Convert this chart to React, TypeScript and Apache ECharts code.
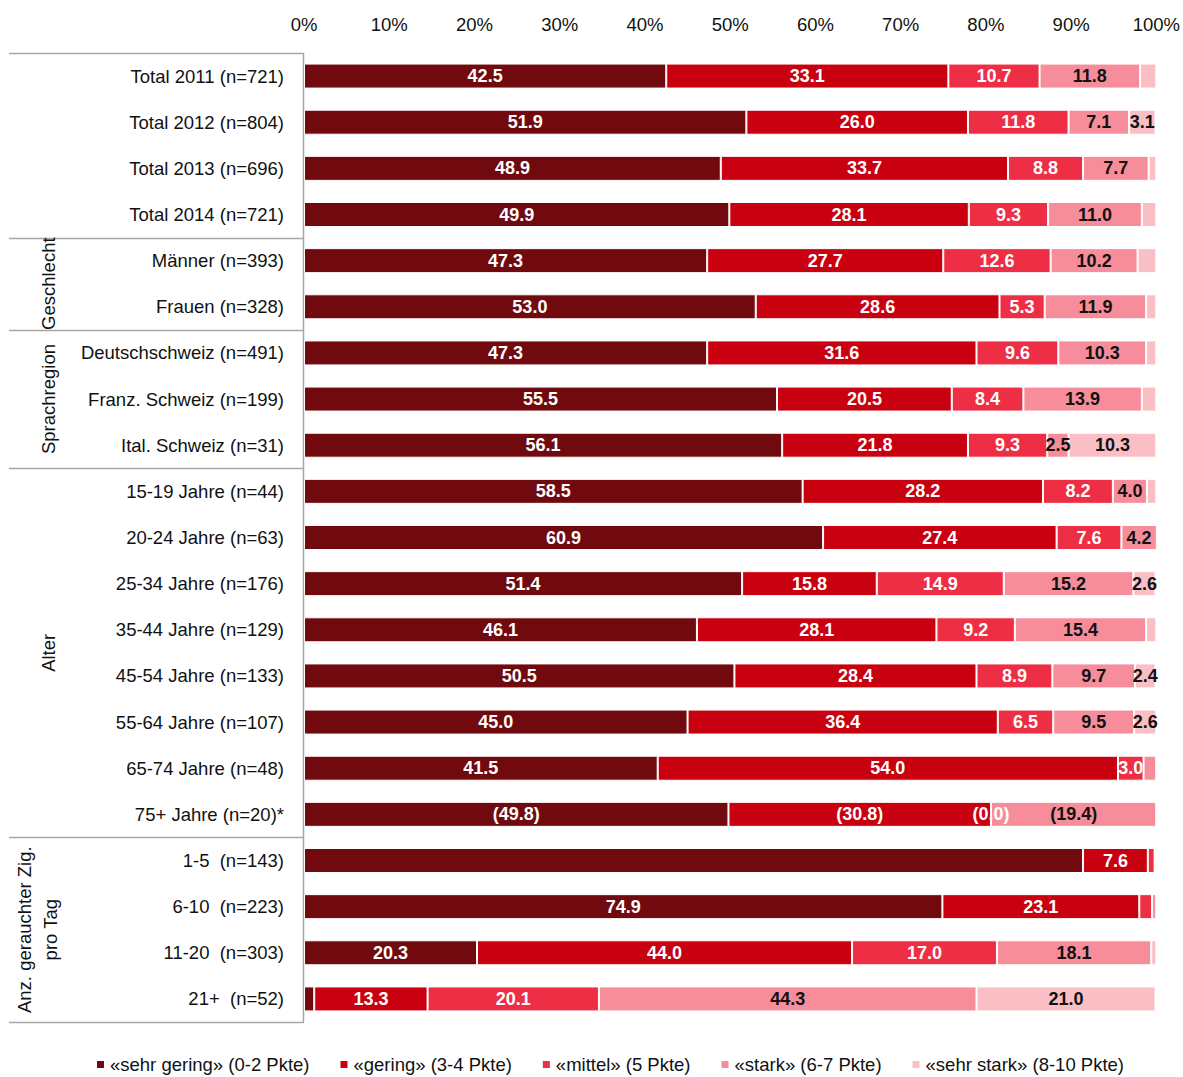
import React, { useEffect, useRef } from "react";
import * as echarts from "echarts";

const categories = [
  "Total 2011 (n=721)",
  "Total 2012 (n=804)",
  "Total 2013 (n=696)",
  "Total 2014 (n=721)",
  "Männer (n=393)",
  "Frauen (n=328)",
  "Deutschschweiz (n=491)",
  "Franz. Schweiz (n=199)",
  "Ital. Schweiz (n=31)",
  "15-19 Jahre (n=44)",
  "20-24 Jahre (n=63)",
  "25-34 Jahre (n=176)",
  "35-44 Jahre (n=129)",
  "45-54 Jahre (n=133)",
  "55-64 Jahre (n=107)",
  "65-74 Jahre (n=48)",
  "75+ Jahre (n=20)*",
  "1-5  (n=143)",
  "6-10  (n=223)",
  "11-20  (n=303)",
  "21+  (n=52)",
];

const sehrGering = [42.5, 51.9, 48.9, 49.9, 47.3, 53.0, 47.3, 55.5, 56.1, 58.5, 60.9, 51.4, 46.1, 50.5, 45.0, 41.5, 49.8, 91.4, 74.9, 20.3, 1.2];
const gering = [33.1, 26.0, 33.7, 28.1, 27.7, 28.6, 31.6, 20.5, 21.8, 28.2, 27.4, 15.8, 28.1, 28.4, 36.4, 54.0, 30.8, 7.6, 23.1, 44.0, 13.3];
const mittel = [10.7, 11.8, 8.8, 9.3, 12.6, 5.3, 9.6, 8.4, 9.3, 8.2, 7.6, 14.9, 9.2, 8.9, 6.5, 3.0, 0.0, 0.8, 1.5, 17.0, 20.1];
const stark = [11.8, 7.1, 7.7, 11.0, 10.2, 11.9, 10.3, 13.9, 2.5, 4.0, 4.2, 15.2, 15.4, 9.7, 9.5, 1.5, 19.4, 0, 0.5, 18.1, 44.3];
const sehrStark = [1.9, 3.1, 0.9, 1.7, 2.2, 1.2, 1.2, 1.7, 10.3, 1.1, 0, 2.6, 1.2, 2.4, 2.6, 0, 0, 0, 0, 0.6, 21.0];

const seriesNames = [
  "«sehr gering» (0-2 Pkte)",
  "«gering» (3-4 Pkte)",
  "«mittel» (5 Pkte)",
  "«stark» (6-7 Pkte)",
  "«sehr stark» (8-10 Pkte)",
];
const seriesColors = ["#700A0E", "#C8000F", "#EE2E45", "#F78D9A", "#FABEC5"];
const labelColors = ["#fff", "#fff", "#fff", "#111", "#111"];

const groups = [
  { name: "Geschlecht", from: 4, to: 6, x: 48 },
  { name: "Sprachregion", from: 6, to: 9, x: 48 },
  { name: "Alter", from: 9, to: 17, x: 48 },
  { name: "Anz. gerauchter Zig.\npro Tag", from: 17, to: 21, x: 37 },
];
const separators = [0, 4, 6, 9, 17, 21];
const parenRow = 16;
const hiddenLabel = [[0, 17]];

const FONT = "'Liberation Sans', Arial, sans-serif";

export default function App() {
  const ref = useRef<HTMLDivElement>(null);
  useEffect(() => {
    if (!ref.current) return;
    const chart = echarts.init(ref.current, null, { renderer: "svg" });
    const gridLeft = 304;
    const gridTop = 53;
    const gridH = 969;
    const rowH = gridH / categories.length;
    const allData = [sehrGering, gering, mittel, stark, sehrStark];

    const series = allData.map((arr, si) => ({
      name: seriesNames[si],
      type: "bar",
      stack: "total",
      barWidth: 25,
      itemStyle: { color: seriesColors[si], borderColor: "#fff", borderWidth: 1 },
      data: arr.map((v, ri) => {
        let show = v >= 2.3 || (ri === parenRow && si < 4);
        if (hiddenLabel.some(([s, r]) => s === si && r === ri)) show = false;
        return {
          value: v,
          label: {
            show,
            position: "inside",
            color: labelColors[si],
            fontFamily: FONT,
            fontWeight: "bold",
            fontSize: 18,
            formatter: ri === parenRow ? `(${v.toFixed(1)})` : v.toFixed(1),
          },
        };
      }),
    }));

    const graphics: any[] = [];
    separators.forEach((s) => {
      const y = Math.round(gridTop + s * rowH) + 0.5;
      graphics.push({
        type: "line",
        shape: { x1: 9, y1: y, x2: gridLeft, y2: y },
        style: { stroke: "#a6a6a6", lineWidth: 1.5 },
        silent: true,
      });
    });
    graphics.push({
      type: "line",
      shape: { x1: gridLeft - 0.5, y1: gridTop, x2: gridLeft - 0.5, y2: gridTop + gridH },
      style: { stroke: "#a6a6a6", lineWidth: 1.5 },
      silent: true,
    });
    groups.forEach((g) => {
      const cy = gridTop + ((g.from + g.to) / 2) * rowH;
      graphics.push({
        type: "text",
        x: g.x,
        y: cy,
        rotation: Math.PI / 2,
        style: {
          text: g.name,
          fontFamily: FONT,
          fontSize: 18.5,
          fill: "#111",
          align: "center",
          verticalAlign: "middle",
          lineHeight: 26,
        },
        silent: true,
      });
    });

    chart.setOption({
      animation: false,
      grid: { left: gridLeft, top: gridTop, width: 854, height: gridH },
      legend: {
        data: seriesNames,
        left: 90,
        top: 1050,
        width: 1090,
        icon: "rect",
        itemWidth: 9,
        itemHeight: 9,
        itemGap: 29,
        textStyle: { fontFamily: FONT, fontSize: 18.5, color: "#111" },
      },
      xAxis: {
        type: "value",
        position: "top",
        min: 0,
        max: 100,
        interval: 10,
        axisLine: { show: false },
        axisTick: { show: false },
        splitLine: { show: false },
        axisLabel: {
          formatter: "{value}%",
          fontFamily: FONT,
          fontSize: 18.5,
          color: "#111",
          margin: 19,
        },
      },
      yAxis: {
        type: "category",
        inverse: true,
        data: categories,
        axisLine: { show: false },
        axisTick: { show: false },
        axisLabel: { fontFamily: FONT, fontSize: 18.5, color: "#111", margin: 20 },
      },
      series,
      graphic: graphics,
    });
    return () => chart.dispose();
  }, []);
  return (
    <div
      ref={ref}
      style={{ position: "fixed", left: 0, top: 0, width: 1183, height: 1077, background: "#fff" }}
    />
  );
}
